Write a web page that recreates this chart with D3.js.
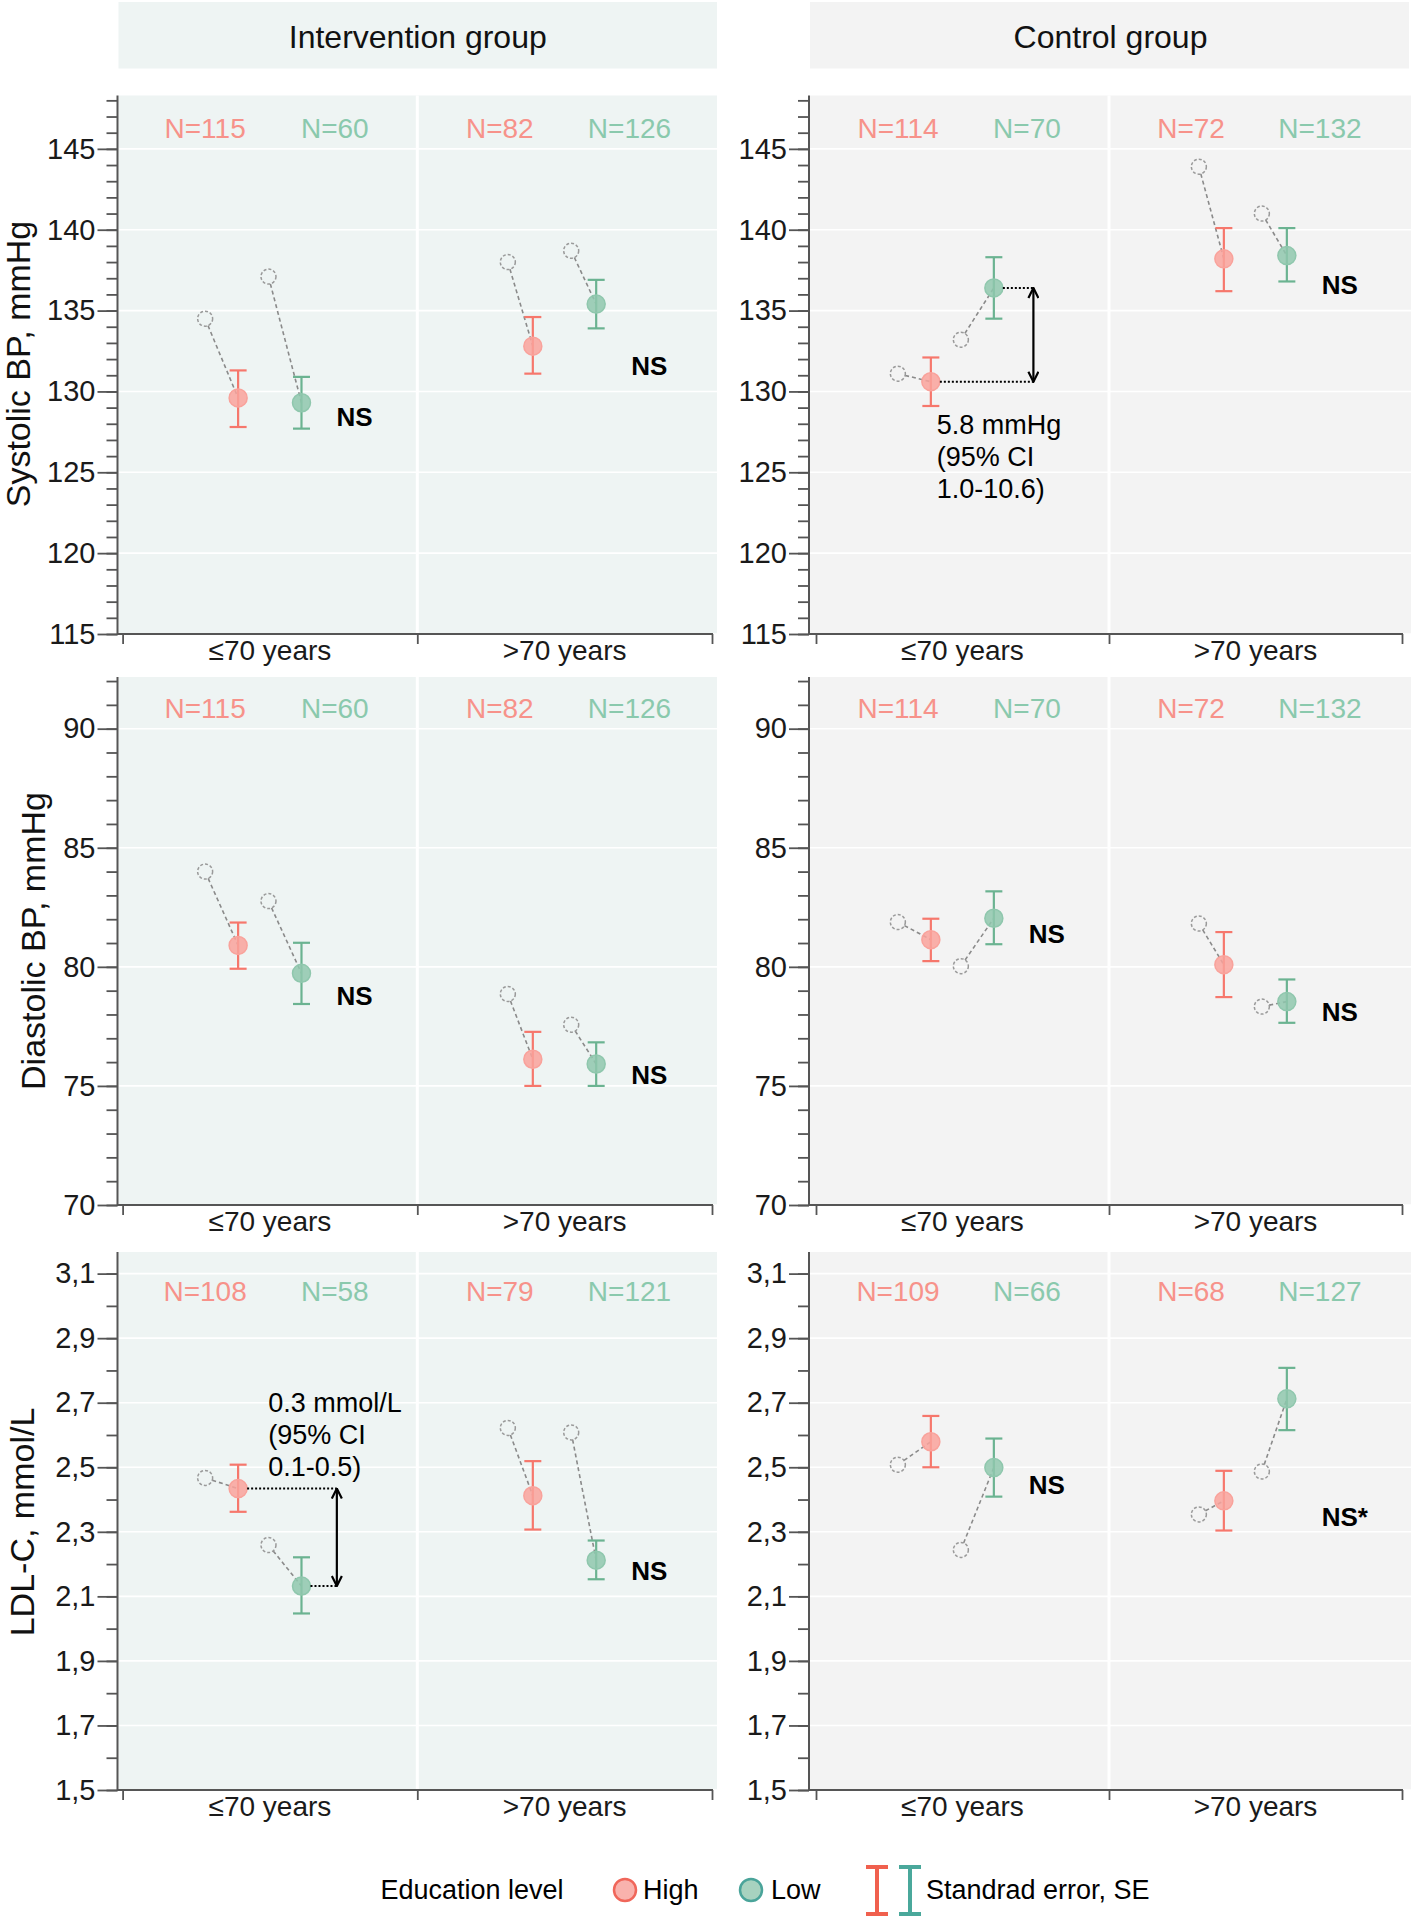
<!DOCTYPE html>
<html><head><meta charset="utf-8">
<script src="https://cdnjs.cloudflare.com/ajax/libs/d3/7.8.5/d3.min.js"></script>
<style>
body{margin:0;background:#fff}
svg{display:block}
text{font-family:"Liberation Sans",Arial,Helvetica,sans-serif}
</style>
</head><body>
<svg id="chart" width="1418" height="1918"></svg>
<script>
// ---------------- DATA ----------------
const groups = ["Intervention group", "Control group"];
const ageGroups = ["≤70 years", ">70 years"];
const eduLevels = ["High", "Low"];
const measures = ["Systolic BP, mmHg", "Diastolic BP, mmHg", "LDL-C, mmol/L"];
const yDomains = [[115, 148.3], [70, 92.17], [1.5, 3.167]];
const majorTicks = [
  [115, 120, 125, 130, 135, 140, 145],
  [70, 75, 80, 85, 90],
  [1.5, 1.7, 1.9, 2.1, 2.3, 2.5, 2.7, 2.9, 3.1]
];
const minorStep = [1, 1, 0.1];

// order in every series: [≤70 High, ≤70 Low, >70 High, >70 Low]
const sbpIntBaseline = [134.5, 137.1, 138.0, 138.7];
const sbpIntFollowup = [129.6, 129.3, 132.8, 135.4];
const sbpIntSeLow    = [127.8, 127.7, 131.1, 133.9];
const sbpIntSeHigh   = [131.3, 130.9, 134.6, 136.9];
const sbpIntN        = [115, 60, 82, 126];

const sbpCtlBaseline = [131.1, 133.2, 143.9, 141.0];
const sbpCtlFollowup = [130.6, 136.4, 138.2, 138.4];
const sbpCtlSeLow    = [129.1, 134.5, 136.2, 136.8];
const sbpCtlSeHigh   = [132.1, 138.3, 140.1, 140.1];
const sbpCtlN        = [114, 70, 72, 132];

const dbpIntBaseline = [84.0, 82.76, 78.86, 77.57];
const dbpIntFollowup = [80.9, 79.73, 76.12, 75.92];
const dbpIntSeLow    = [79.92, 78.44, 75.0, 75.0];
const dbpIntSeHigh   = [81.86, 81.01, 77.27, 76.83];
const dbpIntN        = [115, 60, 82, 126];

const dbpCtlBaseline = [81.88, 80.03, 81.82, 78.33];
const dbpCtlFollowup = [81.14, 82.04, 80.09, 78.54];
const dbpCtlSeLow    = [80.24, 80.95, 78.73, 77.65];
const dbpCtlSeHigh   = [82.02, 83.17, 81.46, 79.47];
const dbpCtlN        = [114, 70, 72, 132];

const ldlIntBaseline = [2.467, 2.259, 2.622, 2.608];
const ldlIntFollowup = [2.434, 2.132, 2.412, 2.212];
const ldlIntSeLow    = [2.362, 2.047, 2.307, 2.153];
const ldlIntSeHigh   = [2.508, 2.221, 2.519, 2.273];
const ldlIntN        = [108, 58, 79, 121];

const ldlCtlBaseline = [2.508, 2.244, 2.354, 2.487];
const ldlCtlFollowup = [2.579, 2.499, 2.396, 2.712];
const ldlCtlSeLow    = [2.5, 2.409, 2.304, 2.615];
const ldlCtlSeHigh   = [2.659, 2.589, 2.489, 2.808];
const ldlCtlN        = [109, 66, 68, 127];

// significance labels: [row][group] -> {age, text, value}
const nsLabels = [
  [[{age: 0, text: "NS", value: 128.4}, {age: 1, text: "NS", value: 131.6}],
   [{age: 1, text: "NS", value: 136.56}]],
  [[{age: 0, text: "NS", value: 78.79}, {age: 1, text: "NS", value: 75.45}],
   [{age: 0, text: "NS", value: 81.37}, {age: 1, text: "NS", value: 78.1}]],
  [[{age: 1, text: "NS", value: 2.179}],
   [{age: 0, text: "NS", value: 2.445}, {age: 1, text: "NS*", value: 2.345}]]
];
// difference annotations
const diffNotes = [
  {row: 0, group: 1, age: 0, lines: ["5.8 mmHg", "(95% CI", "1.0-10.6)"], textValue: 127.92},
  {row: 2, group: 0, age: 0, lines: ["0.3 mmol/L", "(95% CI", "0.1-0.5)"], textValue: 2.70}
];

const seriesTable = [
  [
    {base: sbpIntBaseline, fu: sbpIntFollowup, lo: sbpIntSeLow, hi: sbpIntSeHigh, n: sbpIntN},
    {base: sbpCtlBaseline, fu: sbpCtlFollowup, lo: sbpCtlSeLow, hi: sbpCtlSeHigh, n: sbpCtlN}
  ],
  [
    {base: dbpIntBaseline, fu: dbpIntFollowup, lo: dbpIntSeLow, hi: dbpIntSeHigh, n: dbpIntN},
    {base: dbpCtlBaseline, fu: dbpCtlFollowup, lo: dbpCtlSeLow, hi: dbpCtlSeHigh, n: dbpCtlN}
  ],
  [
    {base: ldlIntBaseline, fu: ldlIntFollowup, lo: ldlIntSeLow, hi: ldlIntSeHigh, n: ldlIntN},
    {base: ldlCtlBaseline, fu: ldlCtlFollowup, lo: ldlCtlSeLow, hi: ldlCtlSeHigh, n: ldlCtlN}
  ]
];

// ---------------- LAYOUT / STYLE ----------------
const panelX = [
  {axis: 117.5, bgL: 118.5, bgR: 717, r0: 122.6, r1: 712, bg: "#eef4f3"},
  {axis: 809, bgL: 810, bgR: 1411, r0: 816, r1: 1402, bg: "#f3f3f3"}
];
const rowY = [
  {top: 95.5, bottom: 634, nY: 128, titleX: 18, titleY: 364},
  {top: 677, bottom: 1205, nY: 708.6, titleX: 33, titleY: 941},
  {top: 1252, bottom: 1790, nY: 1291.7, titleX: 22, titleY: 1522}
];
const headerY = [2, 68.5];
const eduFrac = d3.scaleOrdinal().domain(eduLevels).range([0.392, 0.607]);
const nFrac = d3.scaleOrdinal().domain(eduLevels).range([0.28, 0.72]);
const baseShift = d3.scaleOrdinal().domain(ageGroups).range([-33, -25]);
const colStroke = d3.scaleOrdinal().domain(eduLevels).range(["#f6776c", "#6bb391"]);
const colFill = d3.scaleOrdinal().domain(eduLevels).range(["#f9a29b", "#8fc7ad"]);
const colN = d3.scaleOrdinal().domain(eduLevels).range(["#f7928a", "#8ac9ad"]);
const axisColor = "#555";
const FONT = '"Liberation Sans", Arial, Helvetica, sans-serif';

const svg = d3.select("#chart");
const defs = svg.append("defs");
defs.append("marker").attr("id", "chev").attr("viewBox", "0 0 12 12")
  .attr("refX", 11).attr("refY", 6).attr("markerWidth", 12).attr("markerHeight", 12)
  .attr("markerUnits", "userSpaceOnUse").attr("orient", "auto-start-reverse")
  .append("path").attr("d", "M1,1 L11,6 L1,11").attr("fill", "none")
  .attr("stroke", "#000").attr("stroke-width", 2.2);

// headers
groups.forEach((gName, gi) => {
  const p = panelX[gi];
  svg.append("rect").attr("x", p.bgL).attr("y", headerY[0])
    .attr("width", p.bgR - p.bgL - (gi === 1 ? 2 : 0)).attr("height", headerY[1] - headerY[0])
    .attr("fill", p.bg);
  svg.append("text").attr("x", (p.bgL + p.bgR) / 2).attr("y", (headerY[0] + headerY[1]) / 2 + 2)
    .attr("text-anchor", "middle").attr("dominant-baseline", "central")
    .attr("font-size", 32).attr("fill", "#111").text(gName);
});

const fmtRow = r => (r === 2 ? (v => d3.format(".1f")(v).replace(".", ",")) : d3.format("d"));

measures.forEach((mName, ri) => {
  const R = rowY[ri];
  const y = d3.scaleLinear().domain(yDomains[ri]).range([R.bottom, R.top]);
  const dom = yDomains[ri];
  const step = minorStep[ri];
  const minor = d3.range(Math.ceil(dom[0] / step - 1e-6), Math.floor(dom[1] / step + 1e-6) + 1).map(k => +(k * step).toFixed(3));

  // axis title
  svg.append("text")
    .attr("transform", `translate(${R.titleX},${R.titleY}) rotate(-90)`)
    .attr("text-anchor", "middle").attr("dominant-baseline", "central")
    .attr("font-size", 34).attr("fill", "#111").text(mName);

  groups.forEach((gName, gi) => {
    const p = panelX[gi];
    const x = d3.scaleBand().domain(ageGroups).range([p.r0, p.r1]);
    const bw = x.bandwidth();
    const g = svg.append("g");

    // background
    g.append("rect").attr("x", p.bgL).attr("y", R.top).attr("width", p.bgR - p.bgL)
      .attr("height", R.bottom - R.top).attr("fill", p.bg);
    // gridlines
    g.selectAll(".grid").data(majorTicks[ri]).join("line")
      .attr("x1", p.bgL).attr("x2", p.bgR).attr("y1", d => y(d)).attr("y2", d => y(d))
      .attr("stroke", "#fff").attr("stroke-width", 1.6);
    // vertical divider
    g.append("line").attr("x1", p.r0 + bw).attr("x2", p.r0 + bw)
      .attr("y1", R.top).attr("y2", R.bottom).attr("stroke", "#fff").attr("stroke-width", 3);

    // y axis
    const yMinor = g.append("g").attr("transform", `translate(${p.axis},0)`)
      .call(d3.axisLeft(y).tickValues(minor).tickSize(11).tickSizeOuter(0).tickFormat(""));
    yMinor.select(".domain").remove();
    yMinor.selectAll("line").attr("stroke", axisColor).attr("stroke-width", 1.8);
    const yMajor = g.append("g").attr("transform", `translate(${p.axis},0)`)
      .call(d3.axisLeft(y).tickValues(majorTicks[ri]).tickSize(20).tickSizeOuter(0).tickPadding(2).tickFormat(fmtRow(ri)));
    yMajor.select(".domain").remove();
    yMajor.selectAll("line").attr("stroke", axisColor).attr("stroke-width", 1.8);
    yMajor.selectAll("text").attr("font-size", 29).attr("font-family", FONT).attr("fill", "#1a1a1a");
    g.append("line").attr("x1", p.axis).attr("x2", p.axis).attr("y1", R.top).attr("y2", R.bottom + 1)
      .attr("stroke", axisColor).attr("stroke-width", 2);

    // x axis
    g.append("line").attr("x1", p.axis).attr("x2", p.r1 + 1).attr("y1", R.bottom).attr("y2", R.bottom)
      .attr("stroke", axisColor).attr("stroke-width", 2.2);
    const xt = d3.scaleLinear().domain([0, ageGroups.length]).range([p.r0, p.r1]);
    const xAx = g.append("g").attr("transform", `translate(0,${R.bottom})`)
      .call(d3.axisBottom(xt).tickValues(d3.range(ageGroups.length + 1)).tickSize(10).tickSizeOuter(0).tickFormat(""));
    xAx.select(".domain").remove();
    xAx.selectAll("line").attr("stroke", axisColor).attr("stroke-width", 1.8);
    g.selectAll(".xlab").data(ageGroups).join("text")
      .attr("x", d => x(d) + bw / 2).attr("y", R.bottom + 26)
      .attr("text-anchor", "middle").attr("font-size", 28).attr("fill", "#1a1a1a").text(d => d);

    // points
    const S = seriesTable[ri][gi];
    const pts = [];
    ageGroups.forEach((age, ai) => eduLevels.forEach((edu, ei) => {
      const k = ai * 2 + ei;
      pts.push({age, edu, base: S.base[k], fu: S.fu[k], lo: S.lo[k], hi: S.hi[k], n: S.n[k]});
    }));
    const fx = d => x(d.age) + bw * eduFrac(d.edu);
    const bx = d => fx(d) + baseShift(d.age);

    // N labels
    g.selectAll(".nlab").data(pts).join("text")
      .attr("x", d => x(d.age) + bw * nFrac(d.edu)).attr("y", R.nY)
      .attr("text-anchor", "middle").attr("dominant-baseline", "central")
      .attr("font-size", 28).attr("fill", d => colN(d.edu)).text(d => "N=" + d.n);

    // dashed connector (trimmed at baseline circle edge)
    const rb = 7.5;
    g.selectAll(".conn").data(pts).join("line")
      .attr("x1", d => { const dx = fx(d) - bx(d), dy = y(d.fu) - y(d.base), L = Math.hypot(dx, dy); return bx(d) + dx / L * rb; })
      .attr("y1", d => { const dx = fx(d) - bx(d), dy = y(d.fu) - y(d.base), L = Math.hypot(dx, dy); return y(d.base) + dy / L * rb; })
      .attr("x2", d => fx(d)).attr("y2", d => y(d.fu))
      .attr("stroke", "#8a8a8a").attr("stroke-width", 1.6).attr("stroke-dasharray", "4,3");
    g.selectAll(".basept").data(pts).join("circle")
      .attr("cx", bx).attr("cy", d => y(d.base)).attr("r", rb)
      .attr("fill", "none").attr("stroke", "#9a9a9a").attr("stroke-width", 1.5).attr("stroke-dasharray", "3,2");

    // error bars
    const cap = 8.5;
    const eb = g.selectAll(".eb").data(pts).join("g").attr("stroke", d => colStroke(d.edu)).attr("stroke-width", 2.2);
    eb.append("line").attr("x1", fx).attr("x2", fx).attr("y1", d => y(d.lo)).attr("y2", d => y(d.hi));
    eb.append("line").attr("x1", d => fx(d) - cap).attr("x2", d => fx(d) + cap).attr("y1", d => y(d.lo)).attr("y2", d => y(d.lo));
    eb.append("line").attr("x1", d => fx(d) - cap).attr("x2", d => fx(d) + cap).attr("y1", d => y(d.hi)).attr("y2", d => y(d.hi));
    g.selectAll(".fupt").data(pts).join("circle")
      .attr("cx", fx).attr("cy", d => y(d.fu)).attr("r", 9)
      .attr("fill", d => colFill(d.edu)).attr("fill-opacity", 0.85)
      .attr("stroke", d => colFill(d.edu)).attr("stroke-width", 1.5);

    // NS labels
    g.selectAll(".ns").data(nsLabels[ri][gi]).join("text")
      .attr("x", d => x(ageGroups[d.age]) + bw * 0.726).attr("y", d => y(d.value))
      .attr("dominant-baseline", "central").attr("font-size", 26).attr("font-weight", "bold")
      .attr("fill", "#000").text(d => d.text);

    // difference annotations
    diffNotes.filter(n => n.row === ri && n.group === gi).forEach(n => {
      const ag = ageGroups[n.age];
      const hp = pts.find(d => d.age === ag && d.edu === "High");
      const lp = pts.find(d => d.age === ag && d.edu === "Low");
      const ax = x(ag) + bw * (ri === 0 ? 0.742 : 0.727);
      [hp, lp].forEach(d => {
        g.append("line").attr("x1", fx(d) + 9).attr("x2", ax).attr("y1", y(d.fu)).attr("y2", y(d.fu))
          .attr("stroke", "#000").attr("stroke-width", 2).attr("stroke-dasharray", "2,2");
      });
      g.append("line").attr("x1", ax).attr("x2", ax).attr("y1", y(hp.fu)).attr("y2", y(lp.fu))
        .attr("stroke", "#000").attr("stroke-width", 2.2)
        .attr("marker-start", "url(#chev)").attr("marker-end", "url(#chev)");
      const tx = x(ag) + bw * (ri === 0 ? 0.412 : 0.494);
      g.selectAll(null).data(n.lines).join("text")
        .attr("x", tx).attr("y", (d, i) => y(n.textValue) + i * 32)
        .attr("dominant-baseline", "central").attr("font-size", 27).attr("fill", "#000").text(d => d);
    });
  });
});

// legend
const LY = 1890;
const lg = svg.append("g");
lg.append("text").attr("x", 472).attr("y", LY).attr("text-anchor", "middle").attr("dominant-baseline", "central")
  .attr("font-size", 27).attr("fill", "#000").text("Education level");
const legItems = [
  {edu: "High", cx: 625, tx: 643, fill: "#f9b2ad", stroke: "#f0665a"},
  {edu: "Low", cx: 751, tx: 771, fill: "#a7d2bf", stroke: "#4aa49a"}
];
legItems.forEach(it => {
  lg.append("circle").attr("cx", it.cx).attr("cy", LY).attr("r", 11).attr("fill", it.fill)
    .attr("stroke", it.stroke).attr("stroke-width", 2.5);
  lg.append("text").attr("x", it.tx).attr("y", LY).attr("dominant-baseline", "central")
    .attr("font-size", 27).attr("fill", "#000").text(it.edu);
});
[{x: 877, c: "#f0604e"}, {x: 910, c: "#4aa89b"}].forEach(b => {
  const bg = lg.append("g").attr("stroke", b.c).attr("stroke-width", 4);
  bg.append("line").attr("x1", b.x).attr("x2", b.x).attr("y1", 1867).attr("y2", 1914);
  bg.append("line").attr("x1", b.x - 11).attr("x2", b.x + 11).attr("y1", 1867).attr("y2", 1867);
  bg.append("line").attr("x1", b.x - 11).attr("x2", b.x + 11).attr("y1", 1914).attr("y2", 1914);
});
lg.append("text").attr("x", 926).attr("y", LY).attr("dominant-baseline", "central")
  .attr("font-size", 27).attr("fill", "#000").text("Standrad error, SE");
</script>
</body></html>
